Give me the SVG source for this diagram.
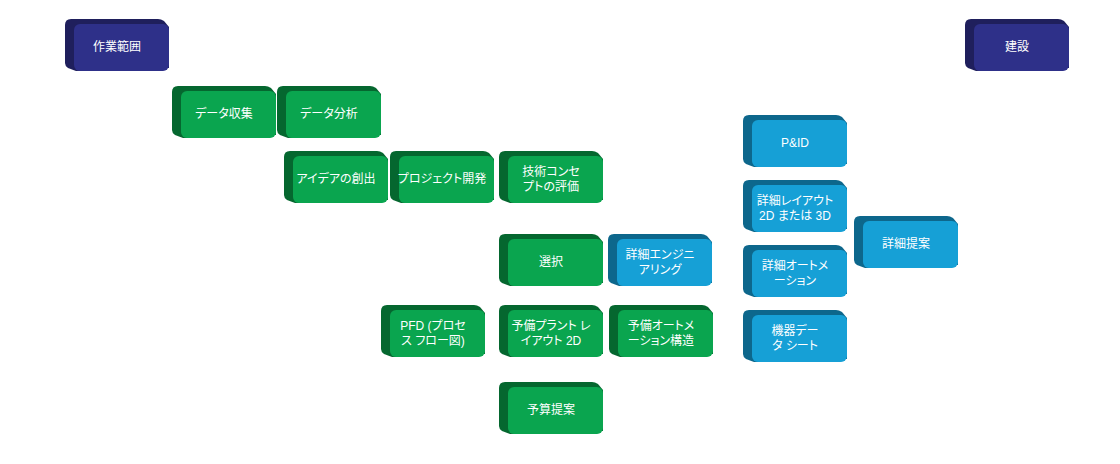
<svg xmlns="http://www.w3.org/2000/svg" xmlns:xlink="http://www.w3.org/1999/xlink" width="1120" height="464" viewBox="0 0 1120 464">
<style>
.t{font-family:"Liberation Sans","Noto Sans CJK JP",sans-serif;font-size:12px;fill:#ffffff;text-anchor:middle;font-feature-settings:"palt"}
.nv .bk{fill:#1f1f5c}.nv .fr{fill:#2e3089}
.gr .bk{fill:#05672f}.gr .fr{fill:#0aa54f}
.bl .bk{fill:#0d678c}.bl .fr{fill:#16a0d6}
</style>
<defs>
<path id="back" d="M-9,1 Q-9,-5 -3,-5 H84 Q87,-5 90,-3 L95,3 V44 L2,47 L-6,44 Q-9,42 -9,39 Z"/>
<rect id="front" x="0" y="0" width="95" height="47" rx="6"/>
</defs>
<rect width="1120" height="464" fill="#ffffff"/>
<g id="connectors"/>
<g id="n-sagyohanni" class="nv" transform="translate(74,24)"><use xlink:href="#back" class="bk"/><use xlink:href="#front" class="fr"/><text class="t" x="43" y="26.5">作業範囲</text></g>
<g id="n-kensetsu" class="nv" transform="translate(974,24)"><use xlink:href="#back" class="bk"/><use xlink:href="#front" class="fr"/><text class="t" x="43" y="26.5">建設</text></g>
<g id="n-datashushu" class="gr" transform="translate(181,91)"><use xlink:href="#back" class="bk"/><use xlink:href="#front" class="fr"/><text class="t" x="43" y="26.5">データ収集</text></g>
<g id="n-databunseki" class="gr" transform="translate(286,91)"><use xlink:href="#back" class="bk"/><use xlink:href="#front" class="fr"/><text class="t" x="43" y="26.5">データ分析</text></g>
<g id="n-idea" class="gr" transform="translate(293,156)"><use xlink:href="#back" class="bk"/><use xlink:href="#front" class="fr"/><text class="t" x="43" y="26.5">アイデアの創出</text></g>
<g id="n-project" class="gr" transform="translate(399,156)"><use xlink:href="#back" class="bk"/><use xlink:href="#front" class="fr"/><text class="t" x="43" y="26.5">プロジェクト開発</text></g>
<g id="n-gijutsu" class="gr" transform="translate(508,156)"><use xlink:href="#back" class="bk"/><use xlink:href="#front" class="fr"/><text class="t" x="43" y="19.5">技術コンセ</text><text class="t" x="43" y="34.5">プトの評価</text></g>
<g id="n-sentaku" class="gr" transform="translate(508,239)"><use xlink:href="#back" class="bk"/><use xlink:href="#front" class="fr"/><text class="t" x="43" y="26.5">選択</text></g>
<g id="n-shosai-eng" class="bl" transform="translate(617,239)"><use xlink:href="#back" class="bk"/><use xlink:href="#front" class="fr"/><text class="t" x="43" y="19.5">詳細エンジニ</text><text class="t" x="43" y="34.5">アリング</text></g>
<g id="n-pfd" class="gr" transform="translate(390,310)"><use xlink:href="#back" class="bk"/><use xlink:href="#front" class="fr"/><text class="t" x="43" y="19.5">PFD (プロセ</text><text class="t" x="43" y="34.5">ス フロー図)</text></g>
<g id="n-yobi-plant" class="gr" transform="translate(508,310)"><use xlink:href="#back" class="bk"/><use xlink:href="#front" class="fr"/><text class="t" x="43" y="19.5">予備プラント レ</text><text class="t" x="43" y="34.5">イアウト 2D</text></g>
<g id="n-yobi-auto" class="gr" transform="translate(618,310)"><use xlink:href="#back" class="bk"/><use xlink:href="#front" class="fr"/><text class="t" x="43" y="19.5">予備オートメ</text><text class="t" x="43" y="34.5">ーション構造</text></g>
<g id="n-yosan" class="gr" transform="translate(508,387)"><use xlink:href="#back" class="bk"/><use xlink:href="#front" class="fr"/><text class="t" x="43" y="26.5">予算提案</text></g>
<g id="n-pid" class="bl" transform="translate(752,120)"><use xlink:href="#back" class="bk"/><use xlink:href="#front" class="fr"/><text class="t" x="43" y="26.5">P&amp;ID</text></g>
<g id="n-shosai-layout" class="bl" transform="translate(752,185)"><use xlink:href="#back" class="bk"/><use xlink:href="#front" class="fr"/><text class="t" x="43" y="19.5">詳細レイアウト</text><text class="t" x="43" y="34.5">2D または 3D</text></g>
<g id="n-shosai-teian" class="bl" transform="translate(863,221)"><use xlink:href="#back" class="bk"/><use xlink:href="#front" class="fr"/><text class="t" x="43" y="26.5">詳細提案</text></g>
<g id="n-shosai-auto" class="bl" transform="translate(752,250)"><use xlink:href="#back" class="bk"/><use xlink:href="#front" class="fr"/><text class="t" x="43" y="19.5">詳細オートメ</text><text class="t" x="43" y="34.5">ーション</text></g>
<g id="n-kiki" class="bl" transform="translate(752,315)"><use xlink:href="#back" class="bk"/><use xlink:href="#front" class="fr"/><text class="t" x="43" y="19.5">機器デー</text><text class="t" x="43" y="34.5">タ シート</text></g>
</svg>
